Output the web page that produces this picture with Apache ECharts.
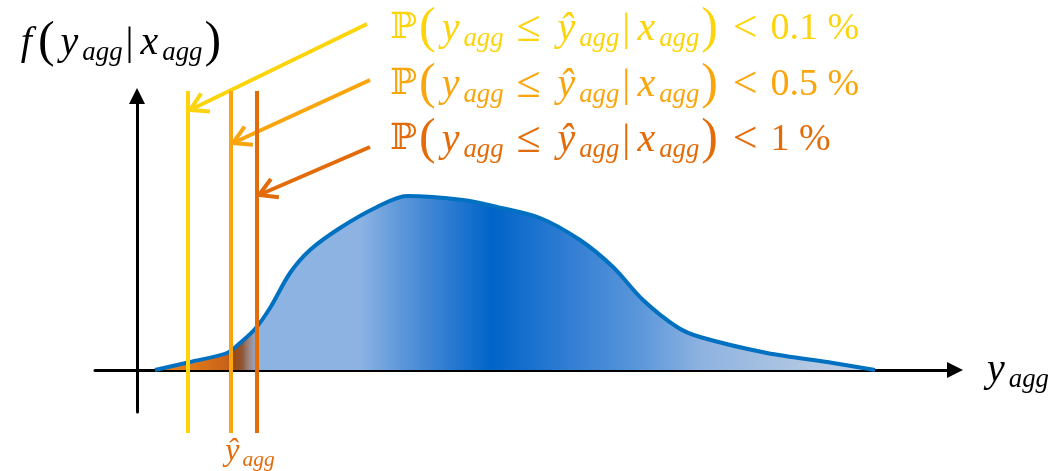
<!DOCTYPE html>
<html>
<head>
<meta charset="utf-8">
<script src="https://cdn.jsdelivr.net/npm/echarts@6/dist/echarts.min.js"></script>
<style>
html, body { margin: 0; padding: 0; background: #fff; }
#chart { width: 1056px; height: 471px; }
</style>
</head>
<body>
<div id="chart"></div>
<script>
// density f(y_agg | x_agg), arbitrary units
var curveX = [18, 53, 90, 103, 118, 133, 153, 173, 203, 240, 270, 326, 360, 403, 443, 476, 506, 540, 563, 630, 696, 738];
var curveY = [0, 8, 17, 27, 41, 62, 97, 120, 142, 163, 174, 170, 163, 152, 130, 103, 70, 43, 33, 17, 7, 0];

// quantile thresholds y^_agg and their probabilities
var quantX = [51, 94, 120];
var quantPct = ['0.1', '0.5', '1'];

// annotation anchors (data units)
var arrowTipY = [260, 227, 175];
var arrowTailX = [230, 233, 233];
var arrowTailY = [346, 290, 223];
var labelX = [253, 253, 253];
var labelY = [341, 285, 230];
var guideTop = 279, guideBottom = -63;
var hatLabel = [85, -82];

var guideColors = ['#fcd40c', '#f9a50d', '#e36c0a'];
var SERIF = 'Liberation Serif';

function tok(color, size, extra) {
    var t = { color: color, fill: color, fontSize: size, fontFamily: SERIF };
    for (var k in extra) t[k] = extra[k];
    return t;
}

//公式用的 rich 样式
function mathRich(color, size) {
    return {
        bb: tok(color, size * 0.9, { fontFamily: 'DejaVu Serif' }),
        par: tok(color, size * 1.25, { padding: [0, 2, 0, 2] }),
        v: tok(color, size, { fontStyle: 'italic', padding: [0, size * 0.1, 0, size * 0.1] }),
        s: tok(color, size * 0.67, { fontStyle: 'italic', padding: [size * 0.5, 0, 0, 0] }),
        op: tok(color, size * 1.1, { padding: [0, size * 0.32, 0, size * 0.32] }),
        bar: tok(color, size, { padding: [0, 3, 0, 3] }),
        num: tok(color, size * 0.95)
    };
}

function probText(pct) {
    return '{bb|ℙ}{par|(}{v|y}{s|agg}{op|≤}{v|ŷ}{s|agg}{bar||}{v|x}{s|agg}{par|)}{op|<}{num|' + pct + ' %}';
}

var chart = echarts.init(document.getElementById('chart'));

var gradient = new echarts.graphic.LinearGradient(0, 0, 1, 0, [
    { offset: 0, color: '#e8841f' },
    { offset: 0.05, color: '#e07a1a' },
    { offset: 0.1, color: '#c8621a' },
    { offset: 0.11, color: '#9c4a16' },
    { offset: 0.121, color: '#8f5535' },
    { offset: 0.129, color: '#9a8078' },
    { offset: 0.137, color: '#9a9cb0' },
    { offset: 0.143, color: '#8db3e2' },
    { offset: 0.285, color: '#8db3e2' },
    { offset: 0.34, color: '#5e98da' },
    { offset: 0.41, color: '#2a7ad0' },
    { offset: 0.468, color: '#0064c8' },
    { offset: 0.56, color: '#2b7ad2' },
    { offset: 0.67, color: '#5996da' },
    { offset: 0.76, color: '#8fb3e0' },
    { offset: 0.9, color: '#b0c6e2' },
    { offset: 1, color: '#c4d2e4' }
]);

function renderGuide(params, api) {
    var i = params.dataIndex;
    var c = guideColors[i];
    var x = api.value(0);
    var top = api.coord([x, guideTop]);
    var bot = api.coord([x, guideBottom]);
    var tip = api.coord([x, api.value(1)]);
    tip[0] += 2;
    var tail = api.coord([api.value(2), api.value(3)]);
    var dx = tail[0] - tip[0], dy = tail[1] - tip[1];
    var len = Math.sqrt(dx * dx + dy * dy);
    var ux = dx / len, uy = dy / len;
    var a = Math.PI / 6, L = 20;
    function arm(s) {
        var ca = Math.cos(s * a), sa = Math.sin(s * a);
        return [tip[0] + L * (ux * ca - uy * sa), tip[1] + L * (ux * sa + uy * ca)];
    }
    var lab = api.coord([api.value(4), api.value(5)]);
    return {
        type: 'group',
        children: [
            { type: 'line', shape: { x1: top[0], y1: top[1], x2: bot[0], y2: bot[1] }, style: { stroke: c, lineWidth: 4 } },
            { type: 'line', shape: { x1: tail[0], y1: tail[1], x2: tip[0], y2: tip[1] }, style: { stroke: c, lineWidth: 4 } },
            { type: 'polyline', shape: { points: [arm(1), tip, arm(-1)] }, style: { stroke: c, lineWidth: 4, fill: 'none' } },
            {
                type: 'text', x: lab[0], y: lab[1],
                style: { text: probText(quantPct[i]), rich: mathRich(c, 40), align: 'left', verticalAlign: 'middle' }
            }
        ]
    };
}

function renderHat(params, api) {
    var p = api.coord([api.value(0), api.value(1)]);
    return {
        type: 'text', x: p[0], y: p[1],
        style: { text: '{v|ŷ}{s|agg}', rich: mathRich(guideColors[2], 32), align: 'left', verticalAlign: 'middle' }
    };
}

var option = {
    animation: false,
    grid: { left: 95, right: 101, top: 96, bottom: 59 },
    xAxis: {
        type: 'value', min: -42, max: 818,
        splitLine: { show: false }, axisTick: { show: false }, axisLabel: { show: false },
        axisLine: { lineStyle: { color: '#000', width: 3 }, symbol: ['none', 'triangle'], symbolSize: [16, 16] },
        name: '{v|y}{s|agg}', nameLocation: 'end', nameGap: 28,
        nameTextStyle: { rich: mathRich('#000', 40) }
    },
    yAxis: {
        type: 'value', min: -42, max: 274,
        splitLine: { show: false }, axisTick: { show: false }, axisLabel: { show: false },
        axisLine: { lineStyle: { color: '#000', width: 3 }, symbol: ['none', 'triangle'], symbolSize: [16, 16] },
        name: '{v|f}{par|(}{v|y}{s|agg}{bar||}{v|x}{s|agg}{par|)}', nameLocation: 'end', nameGap: 28,
        nameTextStyle: { rich: mathRich('#000', 40), padding: [0, 34, 0, 0] }
    },
    series: [
        {
            name: 'density', type: 'line', smooth: 0.3, showSymbol: false,
            data: curveX.map(function (x, i) { return [x, curveY[i]]; }),
            lineStyle: { color: '#0070c0', width: 4 },
            areaStyle: { color: gradient, opacity: 1 },
            z: 2
        },
        {
            name: 'quantiles', type: 'custom', clip: false, z: 5,
            data: quantX.map(function (x, i) { return [x, arrowTipY[i], arrowTailX[i], arrowTailY[i], labelX[i], labelY[i]]; }),
            encode: { x: 0, y: 1 },
            renderItem: renderGuide
        },
        {
            name: 'hat', type: 'custom', clip: false, z: 5,
            data: [hatLabel],
            renderItem: renderHat
        }
    ]
};

chart.setOption(option);
</script>
</body>
</html>
